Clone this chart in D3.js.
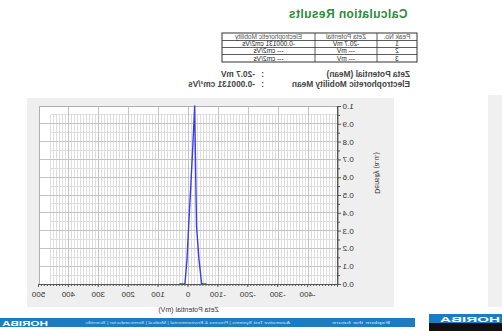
<!DOCTYPE html>
<html>
<head>
<meta charset="utf-8">
<script src="https://cdn.jsdelivr.net/npm/d3@7"></script>
<style>
  html, body { margin: 0; padding: 0; background: #fff; overflow: hidden; }
  svg { display: block; font-family: "Liberation Sans", Arial, sans-serif; }
</style>
</head>
<body>
<svg id="chart" width="502" height="331"></svg>
<script>
// ---- report data ----
const tableHeader = ["Peak No.", "Zeta Potential", "Electrophoretic Mobility"];
const peakNo = ["1", "2", "3"];
const peakZeta = ["-20.7 mV", "--- mV", "--- mV"];
const peakMobility = ["-0.000131 cm2/Vs", "--- cm2/Vs", "--- cm2/Vs"];
const meanLabels = ["Zeta Potential (Mean)", "Electrophoretic Mobility Mean"];
const meanValues = ["-20.7 mV", "-0.000131 cm²/Vs"];

// zeta potential distribution (mV vs normalised density)
const zetaMv  = [-60, -44, -35, -27, -24, -20.7, -14, -7, 0, 5, 12, 30];
const density = [0, 0, 0.14, 0.32, 0.62, 1.0, 0.76, 0.53, 0.31, 0.14, 0, 0];

const xTickValues = [-400, -300, -200, -100, 0, 100, 200, 300, 400, 500];
const yTickValues = [0, 0.1, 0.2, 0.3, 0.4, 0.5, 0.6, 0.7, 0.8, 0.9, 1.0];

const W = 502, H = 331;
const svg = d3.select("#chart");

// the whole page is rendered as a mirror image
const page = svg.append("g").attr("transform", `translate(${W},0) scale(-1,1)`);

// edge of the neighbouring page
page.append("rect").attr("x", 0).attr("y", 95).attr("width", 14).attr("height", 212).attr("fill", "#f0f0f0");
page.append("rect").attr("x", 0).attr("y", 314).attr("width", 73).attr("height", 9).attr("fill", "#1c7cc3");
page.append("rect").attr("x", 0).attr("y", 323).attr("width", 73).attr("height", 8).attr("fill", "#111");
page.append("text").attr("x", 2).attr("y", 322).attr("font-size", 7).attr("font-weight", "bold")
  .attr("fill", "#fff").attr("textLength", 60).attr("lengthAdjust", "spacingAndGlyphs").text("HORIBA");

// footer bar
page.append("rect").attr("x", 87).attr("y", 318).attr("width", 415).attr("height", 9).attr("fill", "#1c7cc3");
page.append("text").attr("x", 454).attr("y", 325.5).attr("font-size", 7).attr("font-weight", "bold")
  .attr("fill", "#fff").attr("textLength", 46).attr("lengthAdjust", "spacingAndGlyphs").text("HORIBA");
page.append("text").attr("x", 112).attr("y", 324.3).attr("font-size", 4).attr("fill", "#cfe2f2")
  .attr("textLength", 58).attr("lengthAdjust", "spacingAndGlyphs").text("Explore the future");
page.append("text").attr("x", 212).attr("y", 324.3).attr("font-size", 3.6).attr("fill", "#cfe2f2")
  .attr("textLength", 205).attr("lengthAdjust", "spacingAndGlyphs")
  .text("Automotive Test Systems  |  Process & Environmental  |  Medical  |  Semiconductor  |  Scientific");

// title
page.append("text").attr("x", 154).attr("y", 17.5).attr("text-anchor", "middle")
  .attr("font-size", 12).attr("font-weight", "bold").attr("fill", "#2f8a3c")
  .attr("letter-spacing", 0.4).text("Calculation Results");

// peak table
const colX = [85, 125, 187, 280];
const rowY = [33, 40.5, 47.5, 54.5, 62];
const table = page.append("g");
const rows = [tableHeader].concat(peakNo.map((p, i) => [p, peakZeta[i], peakMobility[i]]));
rows.forEach((r, ri) => {
  r.forEach((cell, ci) => {
    table.append("text")
      .attr("x", (colX[ci] + colX[ci + 1]) / 2)
      .attr("y", (rowY[ri] + rowY[ri + 1]) / 2 + 2.3)
      .attr("text-anchor", "middle")
      .attr("font-size", 6.5)
      .attr("fill", ri === 0 ? "#555" : "#222")
      .text(cell);
  });
});
table.append("rect").attr("x", colX[0]).attr("y", rowY[0])
  .attr("width", colX[3] - colX[0]).attr("height", rowY[4] - rowY[0])
  .attr("fill", "none").attr("stroke", "#333").attr("stroke-width", 1);
rowY.slice(1, 4).forEach(y => table.append("line").attr("x1", colX[0]).attr("x2", colX[3])
  .attr("y1", y).attr("y2", y).attr("stroke", "#333").attr("stroke-width", 0.8));
colX.slice(1, 3).forEach(x => table.append("line").attr("x1", x).attr("x2", x)
  .attr("y1", rowY[0]).attr("y2", rowY[4]).attr("stroke", "#333").attr("stroke-width", 0.8));

// mean values
meanLabels.forEach((lab, i) => {
  const y = 77 + i * 9.5;
  const g = page.append("g").attr("font-size", 8.3).attr("font-weight", "bold").attr("fill", "#444");
  g.append("text").attr("x", 92).attr("y", y).text(lab);
  g.append("text").attr("x", 238).attr("y", y).text(":");
  g.append("text").attr("x", 247).attr("y", y).text(meanValues[i]);
});

// chart panel
page.append("rect").attr("x", 108).attr("y", 98).attr("width", 367).attr("height", 209).attr("fill", "#efefef");

const plot = { left: 164, right: 463, top: 106, bottom: 284 };
const x = d3.scaleLinear().domain([-500, 500]).range([plot.left, plot.right]);
const y = d3.scaleLinear().domain([0, 1]).range([plot.bottom, plot.top]);

page.append("rect").attr("x", plot.left).attr("y", plot.top)
  .attr("width", plot.right - plot.left).attr("height", plot.bottom - plot.top).attr("fill", "#fff");

// grid
const grid = page.append("g").attr("shape-rendering", "crispEdges");
const minorX = d3.range(-490, 461, 10).filter(v => v % 100 !== 0);
grid.selectAll(".mx").data(minorX).join("line")
  .attr("x1", d => x(d)).attr("x2", d => x(d))
  .attr("y1", y(0)).attr("y2", y(0.95))
  .attr("stroke", "#dedede").attr("stroke-width", 1);
const minorY = d3.range(0.05, 1, 0.1);
grid.selectAll(".my").data(minorY).join("line")
  .attr("x1", x(-500)).attr("x2", x(460))
  .attr("y1", d => y(d)).attr("y2", d => y(d))
  .attr("stroke", "#dedede").attr("stroke-width", 1);
grid.selectAll(".Mx").data(d3.range(-400, 401, 100)).join("line")
  .attr("x1", d => x(d)).attr("x2", d => x(d))
  .attr("y1", plot.bottom).attr("y2", plot.top)
  .attr("stroke", "#c4c4c4").attr("stroke-width", 1);
grid.selectAll(".My").data(yTickValues.slice(1, 10)).join("line")
  .attr("x1", plot.left).attr("x2", plot.right)
  .attr("y1", d => y(d)).attr("y2", d => y(d))
  .attr("stroke", "#c4c4c4").attr("stroke-width", 1);
grid.append("rect").attr("x", plot.left).attr("y", plot.top)
  .attr("width", plot.right - plot.left).attr("height", plot.bottom - plot.top)
  .attr("fill", "none").attr("stroke", "#b0b0b0");

// distribution curve
const pts = zetaMv.map((v, i) => [v, density[i]]);
page.append("path").datum(pts)
  .attr("fill", "none").attr("stroke", "#3a3af0").attr("stroke-width", 1.4)
  .attr("stroke-linejoin", "round")
  .attr("d", d3.line().x(d => x(d[0])).y(d => y(d[1])));

// axes
const axisStyle = g => {
  g.select(".domain").attr("stroke", "#555");
  g.selectAll(".tick line").attr("stroke", "#555");
  g.selectAll("text").attr("fill", "#333").attr("font-size", 8).attr("font-family", "Liberation Sans, Arial, sans-serif");
};
page.append("g").attr("transform", `translate(0,${plot.bottom})`)
  .call(d3.axisBottom(x).tickValues(d3.range(-490, 500, 10)).tickSize(2).tickFormat(""))
  .call(axisStyle);
page.append("g").attr("transform", `translate(0,${plot.bottom})`)
  .call(d3.axisBottom(x).tickValues(xTickValues).tickSize(3).tickPadding(4).tickFormat(d => String(d)))
  .call(axisStyle);
page.append("g").attr("transform", `translate(${plot.left},0)`)
  .call(d3.axisLeft(y).tickValues(d3.range(0.05, 1, 0.1)).tickSize(2).tickFormat(""))
  .call(axisStyle);
page.append("g").attr("transform", `translate(${plot.left},0)`)
  .call(d3.axisLeft(y).tickValues(yTickValues).tickSize(3).tickPadding(1.5).tickFormat(d => d.toFixed(1)))
  .call(axisStyle);

// axis titles
page.append("text").attr("x", (plot.left + plot.right) / 2).attr("y", 311.5)
  .attr("text-anchor", "middle").attr("font-size", 7).attr("fill", "#333")
  .text("Zeta Potential (mV)");
page.append("text").attr("transform", "translate(127,173) rotate(-90)")
  .attr("text-anchor", "middle").attr("font-size", 7).attr("fill", "#333")
  .text("Density (a.u.)");
</script>
</body>
</html>
